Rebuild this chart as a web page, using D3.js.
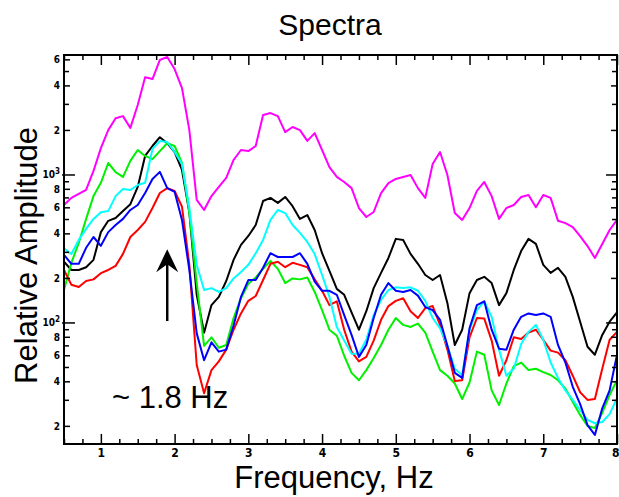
<!DOCTYPE html>
<html>
<head>
<meta charset="utf-8">
<script src="https://cdn.jsdelivr.net/npm/d3@7"></script>
<style>
  body { margin: 0; background: #fff; }
  svg { display: block; }
  text { font-family: "Liberation Sans", Arial, sans-serif; }
  .tick-label { font-family: "Liberation Sans Narrow", "DejaVu Sans Condensed", sans-serif; font-weight: bold; }
</style>
</head>
<body>
<div id="chart"></div>
<script>
// frequency grid, Hz
var freq = [0.5,0.6,0.7,0.8,0.9,1.0,1.1,1.2,1.3,1.4,
            1.5,1.6,1.7,1.8,1.9,2.0,2.1,2.2,2.3,2.4,
            2.5,2.6,2.7,2.8,2.9,3.0,3.1,3.2,3.3,3.4,
            3.5,3.6,3.7,3.8,3.9,4.0,4.1,4.2,4.3,4.4,
            4.5,4.6,4.7,4.8,4.9,5.0,5.1,5.2,5.3,5.4,
            5.5,5.6,5.7,5.8,5.9,6.0,6.1,6.2,6.3,6.4,
            6.5,6.6,6.7,6.8,6.9,7.0,7.1,7.2,7.3,7.4,
            7.5,7.6,7.7,7.8,7.9,8.0];

var magenta = [627,700,745,792,1065,1520,2010,2420,2500,2080,
               2970,4580,4450,5990,6280,5200,3870,2010,678,580,
               720,830,955,1263,1475,1450,1570,2540,2620,2500,
               1950,2110,2010,1700,1920,1475,1130,970,897,815,
               598,520,562,755,880,940,970,1000,815,700,
               1185,1430,1000,553,497,598,780,897,720,505,
               598,627,710,732,605,732,700,490,473,445,
               386,331,275,342,425,497];

var black = [259,228,228,238,267,411,490,512,570,635,
             830,1345,1570,1800,1640,1430,1081,560,155,86,
             132,150,192,267,337,387,459,667,700,648,
             710,615,505,536,425,296,225,170,155,118,
             90,120,172,218,275,370,364,293,251,211,
             195,211,136,71,90,159,195,205,186,132,
             159,228,306,370,342,247,218,236,205,150,
             102,69,61,83,102,118];

var green = [167,255,347,505,720,885,1205,1045,970,1245,
             1475,1345,1280,1450,1640,1570,1205,553,186,70,
             80,68,71,108,147,184,203,232,263,232,
             186,200,197,203,162,122,90,82,60,46,
             41,48,58,71,90,108,97,94,99,86,
             64,48,44,39,30.6,39.6,64,61,35,27.9,
             39,51,54,48,49,46.5,44.5,41,36,29.2,
             23.9,20.1,19.5,24.7,32.6,41];

var red = [228,181,175,192,197,217,228,243,293,381,
           425,482,598,755,815,780,610,247,52,33.5,
           48,55,66,90,116,141,152,195,251,259,
           238,255,247,238,197,165,132,140,90,64,
           55,59,76,105,130,141,147,120,108,126,
           130,97,66,40.5,41,80,108,107,76,44,
           56,80,78,86,90,77,65,63,56,44,
           34,30.2,30.6,49,77,87];

var cyan = [320,292,364,432,505,560,570,720,805,792,
            856,885,1500,1695,1670,1430,1185,598,247,167,
            172,162,172,200,221,247,296,364,497,580,
            553,459,406,353,292,211,150,94,76,62,
            62,77,113,143,167,174,172,174,165,141,
            108,92,70,49,44.5,90,122,140,110,66,
            44,49,72,87,97,77,54,42.5,35,30.2,
            25.8,22.1,21,21.4,24.2,31];

var blue = [288,251,251,322,381,332,411,459,505,580,
            627,755,940,1050,815,770,497,228,85,56,
            74,64,66,96,150,195,195,236,296,279,
            279,279,296,251,190,165,165,155,113,83,
            59,71,108,155,186,165,162,167,153,128,
            122,105,70,46,42.5,92,132,140,90,67,
            66,90,110,116,113,116,110,71,54,37,
            28.3,20.4,17.5,26.5,35,61];

var seriesNames = ["magenta", "black", "green", "red", "cyan", "blue"];
var seriesValues = [magenta, black, green, red, cyan, blue];
var seriesColors = ["#ff00ff", "#000000", "#00f000", "#ff0000", "#00ffff", "#0000ff"];

var xMajorTicks = [1, 2, 3, 4, 5, 6, 7, 8];
var yLabelMultipliers = [2, 4, 6, 8];

function init() {
    var W = 619, H = 497;
    var margin = {top: 55, right: 2, bottom: 53, left: 64},
        w = W - margin.left - margin.right,
        h = H - margin.top - margin.bottom;

    var svg = d3.select("#chart")
        .append("svg")
        .attr("width", W)
        .attr("height", H);

    var xScale = d3.scaleLinear().domain([0.5, 8]).range([0, w]);
    var yScale = d3.scaleLog().domain([15.2, 6470]).range([h, 0]);

    var g = svg.append("g")
        .attr("transform", `translate(${margin.left}, ${margin.top})`);

    // lines
    var line = d3.line()
        .x((d, i) => xScale(freq[i]))
        .y(d => yScale(d));

    svg.append("defs").append("clipPath").attr("id", "plotclip")
        .append("rect").attr("x", 0).attr("y", 0).attr("width", w).attr("height", h);

    g.append("g")
        .attr("clip-path", "url(#plotclip)")
        .selectAll("path")
        .data(seriesValues)
        .enter()
        .append("path")
        .attr("d", line)
        .attr("fill", "none")
        .attr("stroke", (d, i) => seriesColors[i])
        .attr("stroke-width", 2)
        .attr("stroke-linejoin", "round");

    // x ticks, minor every 0.25
    var xMinor = d3.range(0.5, 8.001, 0.25).filter(v => Math.abs(v - Math.round(v)) > 0.01);

    g.append("g")
        .attr("transform", `translate(0, ${h})`)
        .call(d3.axisBottom(xScale).tickValues(xMinor).tickSize(-5).tickFormat(""));
    var xAxis = g.append("g")
        .attr("transform", `translate(0, ${h})`)
        .call(d3.axisBottom(xScale).tickValues(xMajorTicks).tickSize(-10).tickPadding(4).tickFormat(d3.format("d")));
    g.append("g")
        .call(d3.axisTop(xScale).tickValues(xMinor).tickSize(-5).tickFormat(""));
    g.append("g")
        .call(d3.axisTop(xScale).tickValues(xMajorTicks).tickSize(-10).tickFormat(""));

    // y ticks: every integer multiple of each decade
    var yTicks = [];
    [10, 100, 1000].forEach(function(dec) {
        for (var k = 1; k <= 9; k++) {
            var v = k * dec;
            if (v >= 15.2 && v <= 6470) yTicks.push({v: v, k: k});
        }
    });

    function tickLen(t) {
        if (t.k === 1) return 11;
        if (yLabelMultipliers.indexOf(t.k) >= 0) return 6;
        return 5;
    }

    g.append("g").selectAll("line")
        .data(yTicks).enter().append("line")
        .attr("x1", t => t.k === 1 ? -2 : 0)
        .attr("x2", t => tickLen(t))
        .attr("y1", t => yScale(t.v)).attr("y2", t => yScale(t.v))
        .attr("stroke", "#000").attr("stroke-width", 1.5);

    g.append("g").selectAll("line")
        .data(yTicks).enter().append("line")
        .attr("x1", w)
        .attr("x2", t => w - tickLen(t))
        .attr("y1", t => yScale(t.v)).attr("y2", t => yScale(t.v))
        .attr("stroke", "#000").attr("stroke-width", 1.5);

    var yLab = g.append("g").selectAll("text")
        .data(yTicks.filter(t => t.k === 1 || yLabelMultipliers.indexOf(t.k) >= 0))
        .enter().append("text")
        .attr("class", "tick-label")
        .attr("x", -4)
        .attr("y", t => yScale(t.v) + 3.5)
        .attr("text-anchor", "end")
        .style("font-size", "10px");

    yLab.each(function(t) {
        var el = d3.select(this);
        if (t.k === 1) {
            el.append("tspan").text("10");
            el.append("tspan").attr("dy", -4).style("font-size", "8px").text(Math.round(Math.log10(t.v)));
        } else {
            el.text(t.k);
        }
    });

    // frame
    g.append("rect")
        .attr("x", 0).attr("y", 0).attr("width", w).attr("height", h)
        .attr("fill", "none").attr("stroke", "#000").attr("stroke-width", 2);

    g.selectAll(".domain").remove();
    g.selectAll(".tick line").attr("stroke", "#000").attr("stroke-width", 1.5);
    g.selectAll(".tick text")
        .attr("class", "tick-label")
        .style("font-size", "12px")
        .attr("fill", "#000");

    // last label sits at the right edge, keep it inside the page
    xAxis.selectAll(".tick text")
        .filter(d => d === 8)
        .attr("text-anchor", "end")
        .attr("x", 2);

    // annotation: arrow and label
    var arrowF = 1.9, arrowTail = 103, arrowTip = 315;
    var ax = xScale(arrowF), ay0 = yScale(arrowTail), ay1 = yScale(arrowTip);
    g.append("line")
        .attr("x1", ax).attr("x2", ax)
        .attr("y1", ay0).attr("y2", ay1 + 12)
        .attr("stroke", "#000").attr("stroke-width", 2.5);
    g.append("path")
        .attr("d", `M${ax},${ay1} L${ax + 11},${ay1 + 23} L${ax},${ay1 + 15} L${ax - 11},${ay1 + 23} Z`)
        .attr("fill", "#000");

    g.append("text")
        .attr("x", xScale(1.15))
        .attr("y", yScale(26.6))
        .style("font-size", "31px")
        .text("~ 1.8 Hz");

    // titles
    svg.append("text")
        .attr("x", 330)
        .attr("y", 35)
        .attr("text-anchor", "middle")
        .style("font-size", "30px")
        .text("Spectra");

    svg.append("text")
        .attr("x", 334)
        .attr("y", 488)
        .attr("text-anchor", "middle")
        .style("font-size", "31px")
        .text("Frequency, Hz");

    svg.append("text")
        .attr("transform", `translate(37, ${margin.top + h / 2 + 6}) rotate(-90)`)
        .attr("text-anchor", "middle")
        .style("font-size", "31px")
        .text("Relative Amplitude");
}

window.onload = init;
</script>
</body>
</html>
